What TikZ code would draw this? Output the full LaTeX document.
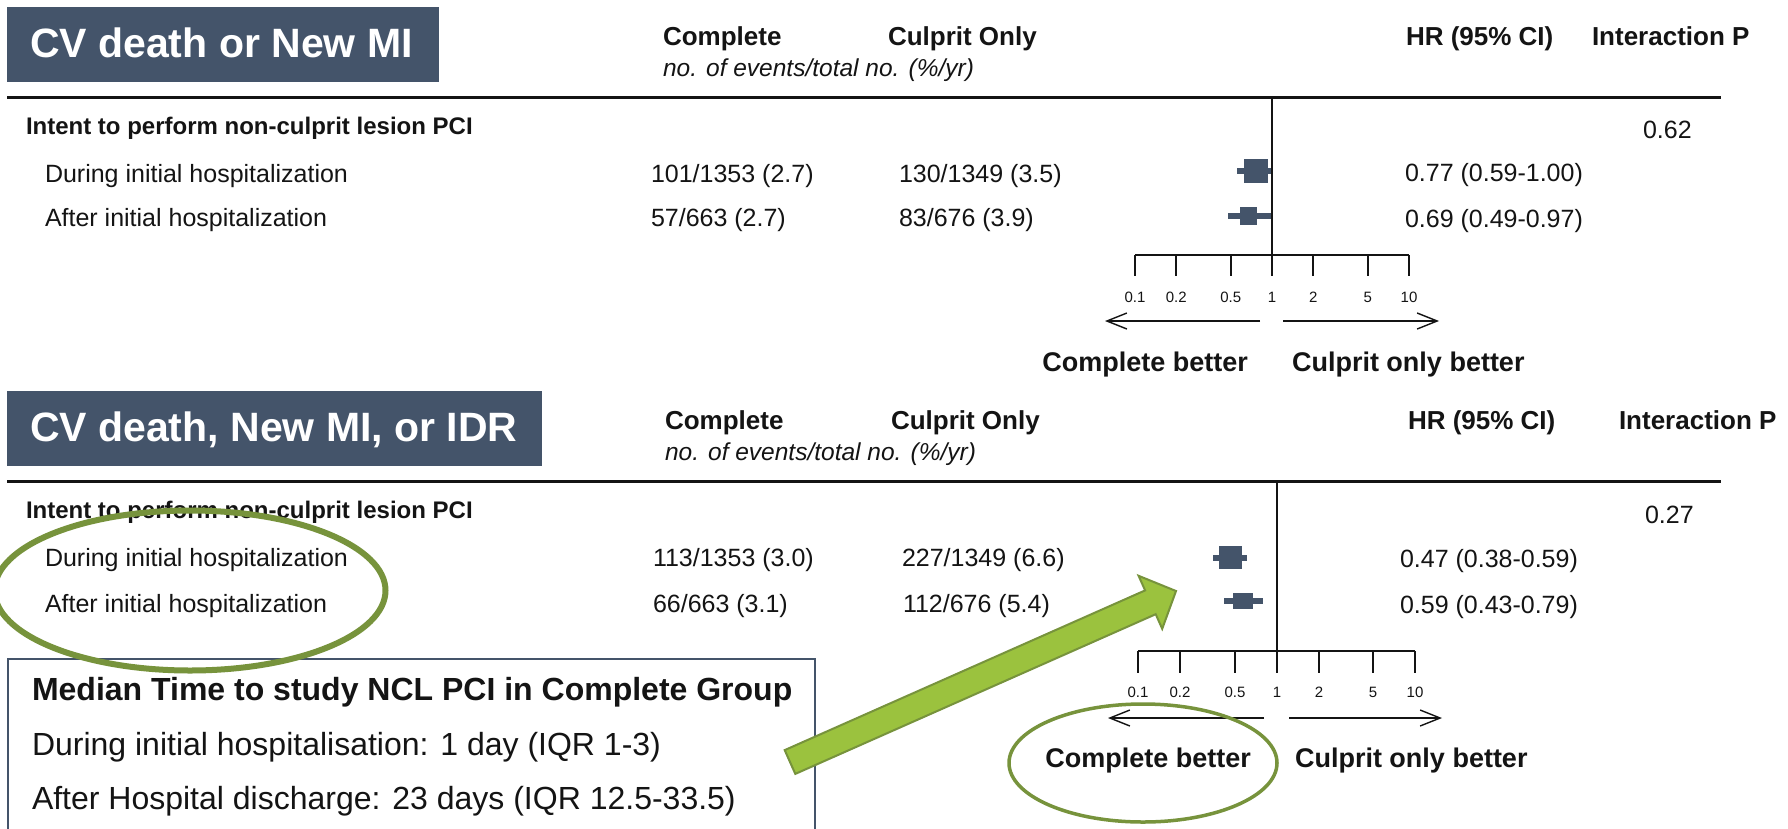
\documentclass[tikz,border=0pt]{standalone}
\usepackage{fontspec}
\setmainfont{Liberation Sans}
\usetikzlibrary{arrows.meta}
\definecolor{slate}{RGB}{68,84,106}
\definecolor{olive}{RGB}{119,147,60}
\definecolor{lime}{RGB}{155,194,62}
\definecolor{ink}{RGB}{20,20,20}

\begin{document}
\begin{tikzpicture}[x=1pt,y=-1pt,
  every node/.style={inner sep=0pt, outer sep=0pt, text=ink},
  lbl/.style={anchor=base west, font=\fontsize{25}{30}\selectfont},
  hdr/.style={anchor=base west, font=\fontsize{26}{31}\selectfont\bfseries},
  subhdr/.style={anchor=base west, font=\fontsize{24.5}{30}\selectfont\itshape},
  grp/.style={anchor=base west, font=\fontsize{24}{29}\selectfont\bfseries},
  titlebox/.style={fill=slate},
  titletxt/.style={anchor=base west, text=white, font=\fontsize{41}{49}\selectfont\bfseries},
  rulebar/.style={line width=3pt, draw=ink},
  refline/.style={line width=1.6pt, draw=ink},
  est/.style={fill=slate},
  ci/.style={line width=6pt, draw=slate},
  ticklbl/.style={anchor=base, font=\fontsize{15}{18}\selectfont},
  dirarrow/.style={line width=1.4pt, draw=ink, -{Straight Barb[length=20pt,width=16pt]}},
  better/.style={font=\fontsize{27}{32}\selectfont\bfseries},
  notebox/.style={draw=slate, line width=2.5pt},
  notehead/.style={anchor=base west, font=\fontsize{32}{38}\selectfont\bfseries},
  notetxt/.style={anchor=base west, font=\fontsize{32}{38}\selectfont},
  ring/.style={draw=olive},
  blockarrow/.style={fill=lime, draw=olive, line width=2pt, line join=miter},
]
\useasboundingbox (0,0) rectangle (1788,828);
\clip (0,0) rectangle (1788,828);
\fill[white] (0,0) rectangle (1788,828);

% ---------- upper panel: CV death or New MI ----------
\fill[titlebox] (7,7) rectangle (439,82);
\node[titletxt] (t1) at (30,57) {CV death or New MI};
\node[hdr] (h1c) at (663,45) {Complete};
\node[hdr] (h1u) at (888,45) {Culprit Only};
\node[hdr] (h1hr) at (1406,45) {HR (95\% CI)};
\node[hdr] (h1p) at (1592,45) {Interaction P};
\node[subhdr] (s1) at (663,76) {no. of events/total no. (\%/yr)};
\draw[rulebar] (7,97) -- (1721,97);

\node[grp] (g1) at (26,134) {Intent to perform non-culprit lesion PCI};
\node[lbl] (p1) at (1643,138) {0.62};
\node[lbl] (r1a) at (45,182) {During initial hospitalization};
\node[lbl] (r1ac) at (651,182) {101/1353 (2.7)};
\node[lbl] (r1au) at (899,182) {130/1349 (3.5)};
\node[lbl] (r1ah) at (1405,181) {0.77 (0.59-1.00)};
\node[lbl] (r1b) at (45,226.5) {After initial hospitalization};
\node[lbl] (r1bc) at (651,226.5) {57/663 (2.7)};
\node[lbl] (r1bu) at (899,226.5) {83/676 (3.9)};
\node[lbl] (r1bh) at (1405,227) {0.69 (0.49-0.97)};

% hazard ratio estimates, upper panel
\draw[ci] (1237,171) -- (1273,171);
\fill[est] (1244,159) rectangle (1268,183);
\draw[ci] (1228,216) -- (1272,216);
\fill[est] (1240,207) rectangle (1257,225);

% log axis, upper panel
\begin{scope}[shift={(1272,255)}]
  \draw[refline] (0,-158) -- (0,21);
  \draw[refline] (-137,0) -- (137,0);
  \foreach \t/\v [count=\k] in {-137/0.1, -95.8/0.2, -41.2/0.5, 0/1, 41.2/2, 95.8/5, 137/10} {
    \draw[refline] (\t,0) -- (\t,21);
    \node[ticklbl] (ut\k) at (\t,47) {\v};
  }
  \draw[dirarrow] (-12,66) -- (-167,66);
  \draw[dirarrow] (11,66) -- (167,66);
  \node[better, anchor=base east] (ucb) at (-24,116) {Complete better};
  \node[better, anchor=base west] (ucob) at (20,116) {Culprit only better};
\end{scope}

% ---------- lower panel: CV death, New MI, or IDR ----------
\fill[titlebox] (7,391) rectangle (542,466);
\node[titletxt] (t2) at (30,441) {CV death, New MI, or IDR};
\node[hdr] (h2c) at (665,429) {Complete};
\node[hdr] (h2u) at (891,429) {Culprit Only};
\node[hdr] (h2hr) at (1408,429) {HR (95\% CI)};
\node[hdr] (h2p) at (1619,429) {Interaction P};
\node[subhdr] (s2) at (665,460) {no. of events/total no. (\%/yr)};
\draw[rulebar] (7,481) -- (1721,481);

\node[grp] (g2) at (26,518) {Intent to perform non-culprit lesion PCI};
\node[lbl] (p2) at (1645,523) {0.27};
\node[lbl] (r2a) at (45,566) {During initial hospitalization};
\node[lbl] (r2ac) at (653,566) {113/1353 (3.0)};
\node[lbl] (r2au) at (902,566) {227/1349 (6.6)};
\node[lbl] (r2ah) at (1400,567) {0.47 (0.38-0.59)};
\node[lbl] (r2b) at (45,612) {After initial hospitalization};
\node[lbl] (r2bc) at (653,612) {66/663 (3.1)};
\node[lbl] (r2bu) at (903,612) {112/676 (5.4)};
\node[lbl] (r2bh) at (1400,613) {0.59 (0.43-0.79)};

% hazard ratio estimates, lower panel
\draw[ci] (1213,557.5) -- (1247,557.5);
\fill[est] (1219,546) rectangle (1242,569);
\draw[ci] (1224,601) -- (1263,601);
\fill[est] (1233,593) rectangle (1253,609);

% log axis, lower panel
\begin{scope}[shift={(1277,651)}]
  \draw[refline] (0,-169) -- (0,22);
  \draw[refline] (-139,0) -- (138,0);
  \foreach \t/\v [count=\k] in {-139/0.1, -97/0.2, -42/0.5, 0/1, 42/2, 96/5, 138/10} {
    \draw[refline] (\t,0) -- (\t,22);
    \node[ticklbl] (lt\k) at (\t,46) {\v};
  }
  \draw[dirarrow] (-13,67) -- (-169,67);
  \draw[dirarrow] (12,67) -- (165,67);
  \node[better, anchor=base east] (lcb) at (-26,116) {Complete better};
  \node[better, anchor=base west] (lcob) at (18,116) {Culprit only better};
\end{scope}

% ---------- note box ----------
\draw[notebox] (8,845) -- (8,659) -- (815,659) -- (815,845);
\node[notehead] (n0) at (32,700) {Median Time to study NCL PCI in Complete Group};
\node[notetxt] (n1) at (32,755) {During initial hospitalisation: 1 day (IQR 1-3)};
\node[notetxt] (n2) at (32,809) {After Hospital discharge: 23 days (IQR 12.5-33.5)};

% ---------- highlights ----------
\draw[ring, line width=6pt] (190,590.5) ellipse [x radius=195.5pt, y radius=80pt];
\draw[ring, line width=3.5pt] (1143,763) ellipse [x radius=134pt, y radius=59pt];

\draw[blockarrow]
  (784.7,750.1) -- (1145.1,590.4) -- (1138.6,575.8) -- (1176,591)
  -- (1162.2,628.8) -- (1155.7,614.2) -- (795.3,773.9) -- cycle;
\end{tikzpicture}
\end{document}
